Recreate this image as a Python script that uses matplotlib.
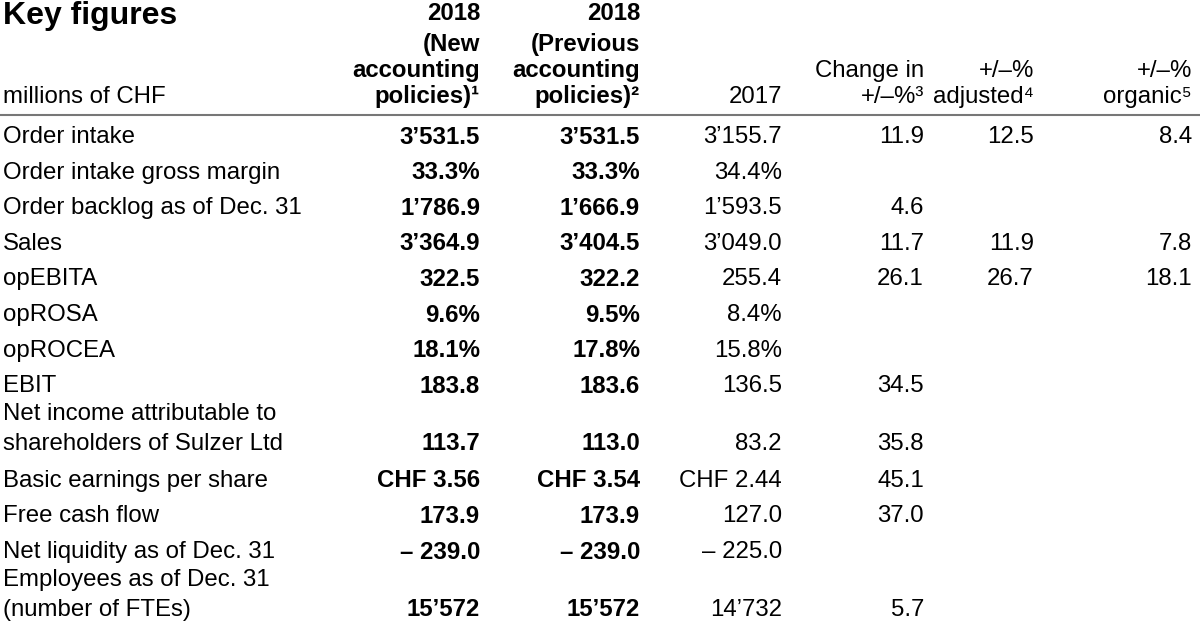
import matplotlib
matplotlib.use("Agg")
import matplotlib.pyplot as plt

plt.rcParams['font.family'] = ['Liberation Sans', 'DejaVu Sans']

row_labels = [["Order intake"], ["Order intake gross margin"], ["Order backlog as of Dec. 31"],
              ["Sales"], ["opEBITA"], ["opROSA"], ["opROCEA"], ["EBIT"],
              ["Net income attributable to", "shareholders of Sulzer Ltd"],
              ["Basic earnings per share"], ["Free cash flow"], ["Net liquidity as of Dec. 31"],
              ["Employees as of Dec. 31", "(number of FTEs)"]]
col_new = ["3’531.5", "33.3%", "1’786.9", "3’364.9", "322.5", "9.6%", "18.1%", "183.8",
           "113.7", "CHF 3.56", "173.9", "– 239.0", "15’572"]
col_prev = ["3’531.5", "33.3%", "1’666.9", "3’404.5", "322.2", "9.5%", "17.8%", "183.6",
            "113.0", "CHF 3.54", "173.9", "– 239.0", "15’572"]
col_2017 = ["3’155.7", "34.4%", "1’593.5", "3’049.0", "255.4", "8.4%", "15.8%", "136.5",
            "83.2", "CHF 2.44", "127.0", "– 225.0", "14’732"]
col_change = ["11.9", "", "4.6", "11.7", "26.1", "", "", "34.5", "35.8", "45.1", "37.0", "", "5.7"]
col_adj = ["12.5", "", "", "11.9", "26.7", "", "", "", "", "", "", "", ""]
col_org = ["8.4", "", "", "7.8", "18.1", "", "", "", "", "", "", "", ""]

headers = [["2018", "(New", "accounting", "policies)¹"],
           ["2018", "(Previous", "accounting", "policies)²"],
           ["2017"], ["Change in", "+/–%³"], ["+/–%", "adjusted⁴"], ["+/–%", "organic⁵"]]
header_bold = [True, True, False, False, False, False]

fig = plt.figure(figsize=(12, 6.29), dpi=100)
ax = fig.add_axes([0, 0, 1, 1])
ax.set_xlim(0, 1200); ax.set_ylim(629, 0); ax.axis('off')

fs = 17.3
xr = [480, 640, 782, 924, 1034, 1192]
hy = [13, 45, 71, 97]
ax.text(3, 16, "Key figures", fontsize=23, fontweight='bold', va='center', ha='left')
ax.text(3, 97, "millions of CHF", fontsize=fs, va='center', ha='left')
for x, h, b in zip(xr, headers, header_bold):
    ys = hy[-len(h):]
    for y, t in zip(ys, h):
        ax.text(x, y, t, fontsize=fs, fontweight='bold' if b else 'normal', va='center', ha='right')
ax.plot([0, 1200], [115, 115], color='#777777', lw=1.5)

y = 137
step = 35.6
cols = [col_new, col_prev, col_2017, col_change, col_adj, col_org]
for i, lab in enumerate(row_labels):
    if len(lab) == 2:
        y1 = y - 8
        y2 = y1 + 30
        ax.text(3, y1, lab[0], fontsize=fs, va='center')
        ax.text(3, y2, lab[1], fontsize=fs, va='center')
        yv = y2
        y = y2 + 37
    else:
        ax.text(3, y, lab[0], fontsize=fs, va='center')
        yv = y
        y += step
    for j, (x, c) in enumerate(zip(xr, cols)):
        ax.text(x, yv, c[i], fontsize=fs, fontweight='bold' if j < 2 else 'normal', va='center', ha='right')

fig.savefig("out.png", dpi=100)
